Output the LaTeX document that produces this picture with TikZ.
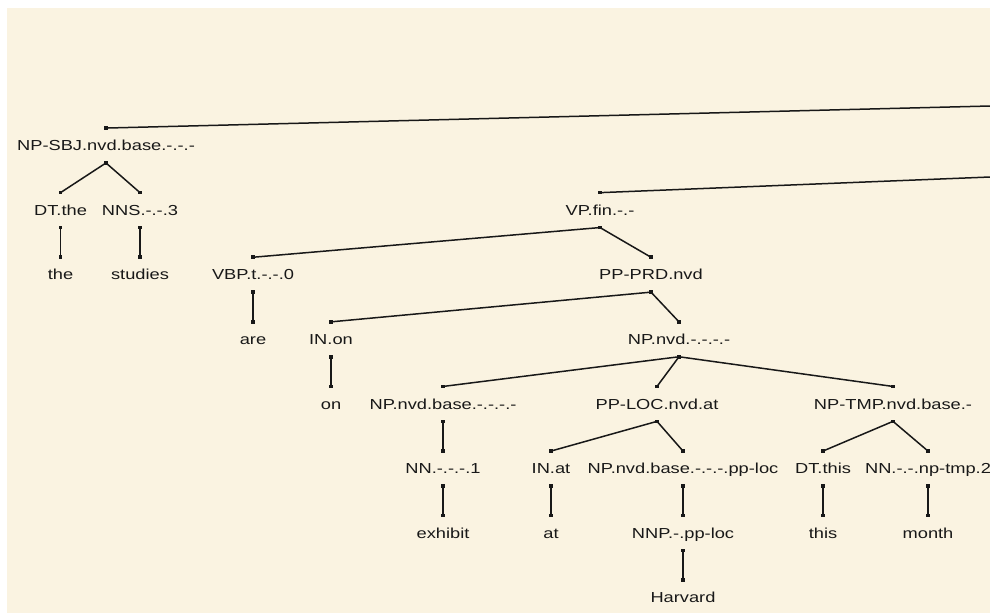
\documentclass[tikz,border=0pt]{standalone}
\usepackage{fontspec}
\setmainfont{Liberation Sans}[FakeStretch=1.26]
\definecolor{paper}{RGB}{250,243,225}
\definecolor{ink}{RGB}{24,24,24}
\begin{document}
\begin{tikzpicture}[x=1pt,y=-1pt,
  lab/.style={inner sep=0pt, minimum height=34.5pt, text height=10.4pt, text depth=0pt,
              font=\fontsize{14.5}{16}\selectfont, text=ink},
  branch/.style={draw=ink, line width=1.5pt},
  knot/.style={fill=ink}]
\useasboundingbox (0,0) rectangle (990,613);
\fill[white] (0,0) rectangle (990,613);
\fill[paper] (7,8) rectangle (990,613);

% row heights of the tree levels
\def\ra{145.5}\def\rb{210.1}\def\rc{274.7}\def\rd{339.3}
\def\re{403.9}\def\rf{468.5}\def\rg{533.1}\def\rh{597.7}

% subject
\node[lab] (npsbj) at (106,\ra) {NP-SBJ.nvd.base.-.-.-};
\node[lab] (dtthe) at (60.5,\rb) {DT.the};
\node[lab] (nns) at (140,\rb) {NNS.-.-.3};
\node[lab] (the) at (60.5,\rc) {the};
\node[lab] (studies) at (140,\rc) {studies};

% predicate
\node[lab] (vp) at (600,\rb) {VP.fin.-.-};
\node[lab] (vbp) at (253,\rc) {VBP.t.-.-.0};
\node[lab] (pprd) at (651,\rc) {PP-PRD.nvd};
\node[lab] (are) at (253,\rd) {are};
\node[lab] (inon) at (331,\rd) {IN.on};
\node[lab] (npnvd) at (679,\rd) {NP.nvd.-.-.-.-};
\node[lab] (on) at (331,\re) {on};
\node[lab] (npbase) at (443,\re) {NP.nvd.base.-.-.-.-};
\node[lab] (pploc) at (657,\re) {PP-LOC.nvd.at};
\node[lab] (nptmp) at (893,\re) {NP-TMP.nvd.base.-};
\node[lab] (nn1) at (443,\rf) {NN.-.-.-.1};
\node[lab] (inat) at (551,\rf) {IN.at};
\node[lab] (nploc) at (683,\rf) {NP.nvd.base.-.-.-.pp-loc};
\node[lab] (dtthis) at (823,\rf) {DT.this};
\node[lab] (nntmp) at (928,\rf) {NN.-.-.np-tmp.2};
\node[lab] (exhibit) at (443,\rg) {exhibit};
\node[lab] (at) at (551,\rg) {at};
\node[lab] (nnp) at (683,\rg) {NNP.-.pp-loc};
\node[lab] (this) at (823,\rg) {this};
\node[lab] (month) at (928,\rg) {month};
\node[lab] (harvard) at (683,\rh) {Harvard};

% branches leading to the root beyond the right edge
\coordinate (rootA) at (990,106);
\coordinate (rootB) at (990,177);
\draw[branch] (npsbj.north) -- (rootA);
\draw[branch] (vp.north) -- (rootB);

% branches
\draw[branch] (npsbj.south) -- (dtthe.north);
\draw[branch] (npsbj.south) -- (nns.north);
\draw[branch] (dtthe.south) -- (the.north);
\draw[branch] (nns.south) -- (studies.north);
\draw[branch] (vp.south) -- (vbp.north);
\draw[branch] (vp.south) -- (pprd.north);
\draw[branch] (vbp.south) -- (are.north);
\draw[branch] (pprd.south) -- (inon.north);
\draw[branch] (pprd.south) -- (npnvd.north);
\draw[branch] (inon.south) -- (on.north);
\draw[branch] (npnvd.south) -- (npbase.north);
\draw[branch] (npnvd.south) -- (pploc.north);
\draw[branch] (npnvd.south) -- (nptmp.north);
\draw[branch] (npbase.south) -- (nn1.north);
\draw[branch] (nn1.south) -- (exhibit.north);
\draw[branch] (pploc.south) -- (inat.north);
\draw[branch] (pploc.south) -- (nploc.north);
\draw[branch] (inat.south) -- (at.north);
\draw[branch] (nploc.south) -- (nnp.north);
\draw[branch] (nnp.south) -- (harvard.north);
\draw[branch] (nptmp.south) -- (dtthis.north);
\draw[branch] (nptmp.south) -- (nntmp.north);
\draw[branch] (dtthis.south) -- (this.north);
\draw[branch] (nntmp.south) -- (month.north);

% square knots where branches meet the labels
\foreach \n in {npsbj,dtthe,nns,the,studies,vp,vbp,pprd,are,inon,npnvd,on,
                npbase,pploc,nptmp,nn1,inat,nploc,dtthis,nntmp,exhibit,at,
                nnp,this,month,harvard}
  \fill[knot] ([shift={(-1.8pt,-1.8pt)}]\n.north) rectangle ++(3.6pt,3.6pt);
\foreach \n in {npsbj,dtthe,nns,vp,vbp,pprd,inon,npnvd,npbase,pploc,nptmp,
                nn1,inat,nploc,dtthis,nntmp,nnp}
  \fill[knot] ([shift={(-1.8pt,-1.8pt)}]\n.south) rectangle ++(3.6pt,3.6pt);
\end{tikzpicture}
\end{document}
